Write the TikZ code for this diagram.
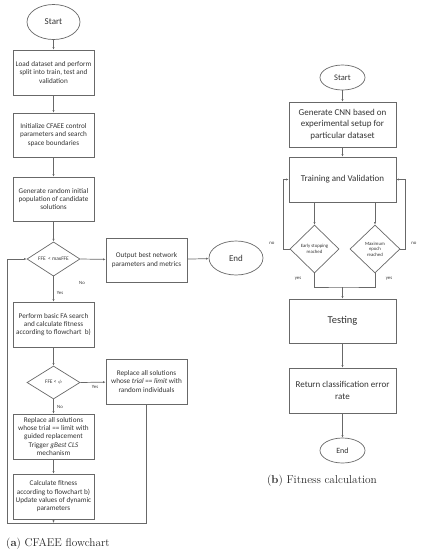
\documentclass[tikz,border=0pt]{standalone}
\usepackage{fontspec}
\newfontfamily\calfont{Carlito}
\usetikzlibrary{shapes.geometric,arrows.meta}
\definecolor{ln}{HTML}{686868}
\definecolor{tx}{HTML}{333333}
\tikzset{
  box/.style={draw=ln, line width=0.7pt, rectangle, align=center, text=tx, inner sep=1pt, font=\calfont\fontsize{7.2}{8.3}\selectfont},
  rbox/.style={box, minimum width=107pt, minimum height=45pt, font=\calfont\fontsize{9}{11.8}\selectfont},
  lbox/.style={box, minimum width=81pt, minimum height=45pt},
  oval/.style={draw=ln, line width=0.7pt, ellipse, text=tx, inner sep=0pt},
  dia/.style={draw=ln, line width=0.7pt, diamond, align=center, text=tx, inner sep=0pt, font=\calfont\fontsize{4.8}{5.6}\selectfont},
  arr/.style={draw=ln, line width=0.7pt, -{Latex[length=2.6pt,width=2.2pt]}},
  con/.style={draw=ln, line width=0.7pt},
  lab/.style={text=tx, font=\calfont\fontsize{4.8}{5.6}\selectfont, inner sep=0pt},
  captext/.style={text=black!85, font=\fontsize{11.3}{13}\selectfont, inner sep=0pt}
}
\begin{document}
\begin{tikzpicture}[x=1pt,y=-1pt]
\useasboundingbox (0,0) rectangle (424,550);
% ---------- left flowchart ----------
\node[oval, minimum width=53pt, minimum height=35pt, font=\calfont\fontsize{9}{10}\selectfont] (s1) at (53.5,22) {Start};
\node[lbox] (b1) at (53.5,72.5) {Load dataset and perform\\split into train, test and\\validation};
\node[lbox, minimum height=44pt] (b2) at (53.5,135) {Initialize CFAEE control\\parameters and search\\space boundaries};
\node[lbox, minimum height=44pt] (b3) at (53.5,199) {Generate random initial\\population of candidate\\solutions};
\node[dia, minimum width=53pt, minimum height=32pt, font=\calfont\fontsize{5.4}{6}\selectfont] (d1) at (53.5,259) {FFE \ <\ maxFFE};
\node[lbox, minimum height=44pt] (out) at (146.5,260) {Output best network\\parameters and metrics};
\node[oval, minimum width=54pt, minimum height=34pt, font=\calfont\fontsize{9}{10}\selectfont] (e1) at (236,258) {End};
\node[lbox] (b4) at (53.5,324.5) {Perform basic FA search\\and calculate fitness\\according to flowchart \ b)};
\node[dia, minimum width=53pt, minimum height=33pt, font=\calfont\fontsize{5.4}{6}\selectfont] (d2) at (53.5,382.5) {FFE < $\phi$};
\node[lbox] (b5) at (146.5,381.5) {Replace all solutions\\whose \textit{trial} == \textit{limit} with\\random individuals};
\node[lbox] (b6) at (53.5,436.5) {Replace all solutions\\whose trial == limit with\\guided replacement\\Trigger \textit{gBest CLS}\\mechanism};
\node[lbox] (b7) at (53.5,496.5) {Calculate fitness\\according to flowchart b)\\Update values of dynamic\\parameters};
\coordinate (mb) at (53.5,523);
\coordinate (rb) at (146.5,523);
\coordinate (lb) at (7,523);
\draw[arr] (s1) -- (b1);
\draw[arr] (b1) -- (b2);
\draw[arr] (b2) -- (b3);
\draw[arr] (b3) -- (d1);
\draw[arr] (d1.east) -- (out);
\draw[arr] (out) -- (e1);
\draw[arr] (d1.south) -- (b4);
\draw[arr] (b4) -- (d2);
\draw[arr] (d2.east) -- (b5);
\draw[arr] (d2.south) -- (b6);
\draw[arr] (b6) -- (b7);
\draw[arr] (b7) -- (mb);
\draw[arr] (b5) -- (rb) -- (lb) |- (d1.west);
\node[lab] (l1) at (82,283) {No};
\node[lab] (l2) at (60,293) {Yes};
\node[lab] (l3) at (95,387) {Yes};
\node[lab] (l4) at (60,407) {No};
\node[captext, anchor=west] (ca) at (6,544) {(\textbf{a}) CFAEE flowchart};
% ---------- right flowchart ----------
\node[oval, minimum width=45pt, minimum height=25pt, font=\calfont\fontsize{8.5}{9}\selectfont] (s2) at (342.5,77.5) {Start};
\node[rbox] (g) at (342.5,124.5) {Generate CNN based on\\experimental setup for\\particular dataset};
\node[rbox] (tr) at (342.5,179.5) {Training and Validation};
\node[dia, minimum width=49pt, minimum height=48pt] (da) at (314.5,249) {Early stopping\\reached};
\node[dia, minimum width=50pt, minimum height=48pt] (db) at (375,249) {Maximum\\epoch\\reached};
\node[rbox, minimum height=44pt, font=\calfont\fontsize{10.5}{12}\selectfont] (te) at (342.5,321) {Testing};
\node[rbox] (re) at (342.5,390.5) {Return classification error\\rate};
\node[oval, minimum width=45pt, minimum height=25pt, font=\calfont\fontsize{8}{9}\selectfont] (e2) at (342.5,450.5) {End};
\coordinate (j) at (342.5,287);
\draw[arr] (s2) -- (g);
\draw[arr] (g) -- (tr);
\draw[arr] (da.north |- tr.south) -- (da.north);
\draw[arr] (db.north |- tr.south) -- (db.north);
\draw[arr] (da.west) -- ++(-6,0) |- (tr.west);
\draw[arr] (db.east) -- ++(5,0) |- (tr.east);
\draw[con] (da.south) |- (j) -| (db.south);
\draw[arr] (j) -- (te);
\draw[arr] (te) -- (re);
\draw[arr] (re) -- (e2);
\node[lab] (n1) at (272,243) {no};
\node[lab] (n2) at (414,243) {no};
\node[lab] (y1) at (298,279) {yes};
\node[lab] (y2) at (389,279) {yes};
\node[captext] (cb) at (322,481) {(\textbf{b}) Fitness calculation};
\end{tikzpicture}
\end{document}
